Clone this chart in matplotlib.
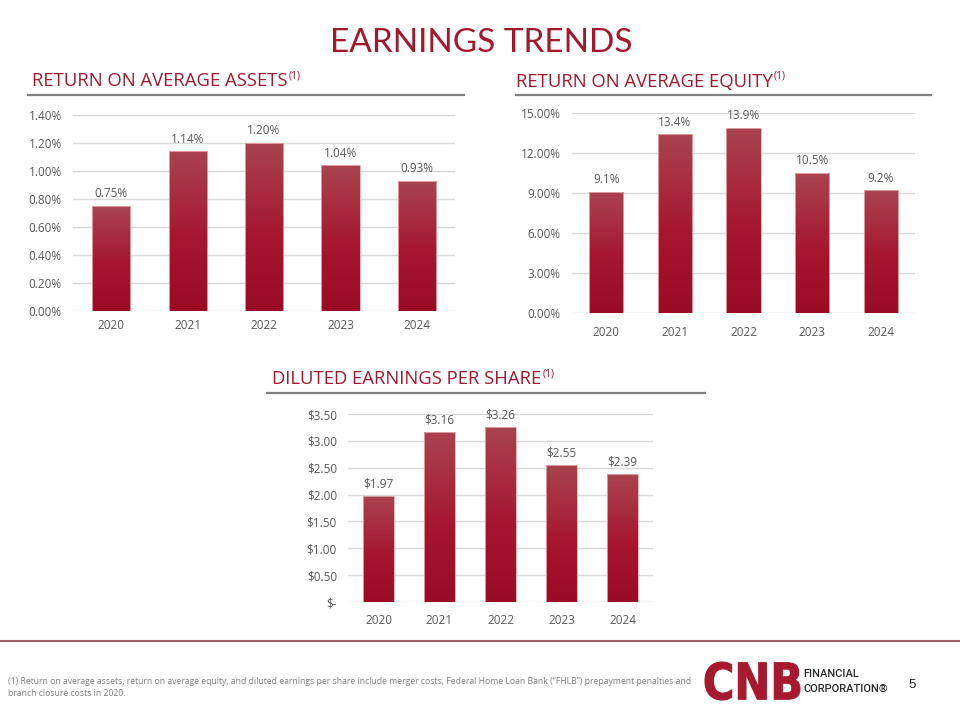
import numpy as np
import matplotlib
matplotlib.use("Agg")
import matplotlib.pyplot as plt
from matplotlib.colors import LinearSegmentedColormap
from matplotlib.textpath import TextPath
from matplotlib.patches import PathPatch
from matplotlib.font_manager import FontProperties
from matplotlib.transforms import Affine2D

plt.rcParams['font.family'] = ['Open Sans', 'DejaVu Sans']

# data
years = ['2020', '2021', '2022', '2023', '2024']
roa = [0.75, 1.14, 1.20, 1.04, 0.93]
roe = [9.1, 13.4, 13.9, 10.5, 9.2]
eps = [1.97, 3.16, 3.26, 2.55, 2.39]

roa_ticks = [0.0, 0.2, 0.4, 0.6, 0.8, 1.0, 1.2, 1.4]
roe_ticks = [0.0, 3.0, 6.0, 9.0, 12.0, 15.0]
eps_ticks = [0.0, 0.5, 1.0, 1.5, 2.0, 2.5, 3.0, 3.5]

RED = '#A3182D'
GRAY_TXT = '#595959'
GRID = '#D9D9D9'
W, H = 960, 720

bar_cmap = LinearSegmentedColormap.from_list(
    'bar', [(0, '#9A0B26'), (0.45, '#A6162F'), (1, '#A9444F')])
grad = np.linspace(0, 1, 256).reshape(-1, 1)

fig = plt.figure(figsize=(9.6, 7.2), dpi=100)


def px_axes(left, right, top, bottom):
    return fig.add_axes([left / W, 1 - bottom / H, (right - left) / W, (bottom - top) / H])


def bar_chart(ax, vals, ticks, tick_fmt, lab_fmt, xpad):
    x = np.arange(len(vals))
    bars = ax.bar(x, vals, 0.5, color='none', edgecolor='#E9A9B0', lw=0.6, zorder=3)
    for b in bars:
        x0, w, h = b.get_x(), b.get_width(), b.get_height()
        im = ax.imshow(grad, extent=[x0, x0 + w, 0, h], origin='lower', aspect='auto',
                       cmap=bar_cmap, zorder=2.5)
        im.set_clip_path(b)
    for xi, v in zip(x, vals):
        ax.annotate(lab_fmt(v), (xi, v), xytext=(0, 4), textcoords='offset points',
                    ha='center', va='bottom', fontsize=8.5, color=GRAY_TXT)
    ax.set_xlim(-0.5, len(vals) - 0.5)
    ax.set_ylim(0, ticks[-1])
    ax.set_yticks(ticks)
    ax.set_yticklabels([tick_fmt(t) for t in ticks])
    ax.set_xticks(x)
    ax.set_xticklabels(years)
    ax.tick_params(length=0, labelsize=8.5, labelcolor=GRAY_TXT)
    ax.tick_params(axis='y', pad=8)
    ax.tick_params(axis='x', pad=xpad)
    ax.yaxis.grid(True, color=GRID, lw=1)
    ax.set_axisbelow(True)
    for s in ax.spines.values():
        s.set_visible(False)


ax1 = px_axes(73, 455, 115, 311)
bar_chart(ax1, roa, roa_ticks, lambda t: f'{t:.2f}%', lambda v: f'{v:.2f}%', 6)

ax2 = px_axes(572, 915, 113, 313)
bar_chart(ax2, roe, roe_ticks, lambda t: f'{t:.2f}%', lambda v: f'{v:.1f}%', 9)

ax3 = px_axes(348, 653, 414, 602)
bar_chart(ax3, eps, eps_ticks, lambda t: f'${t:.2f}' if t else '$-', lambda v: f'${v:.2f}', 9)

# title and section headers
fig.text(481 / W, 1 - 52 / H, 'EARNINGS TRENDS', ha='center', va='baseline',
         fontsize=24, color=RED, family='Lato')

renderer = fig.canvas.get_renderer()


def header(x, y, text, line_x0, line_x1, line_y):
    t = fig.text(x / W, 1 - y / H, text, ha='left', va='baseline', fontsize=13.3, color=RED)
    bb = t.get_window_extent(renderer)
    fig.text((bb.x1 + 1) / W, 1 - (y - 8) / H, '(1)', ha='left', va='baseline',
             fontsize=7.5, color=RED)
    fig.add_artist(plt.Line2D([line_x0 / W, line_x1 / W], [1 - line_y / H] * 2,
                              color='#808080', lw=1.6))


header(32, 86, 'RETURN ON AVERAGE ASSETS', 28, 464, 95)
header(516, 87, 'RETURN ON AVERAGE EQUITY', 516, 931, 95)
header(272, 384, 'DILUTED EARNINGS PER SHARE', 267, 705, 393)

# footer
fig.add_artist(plt.Line2D([0, 1], [1 - 641 / H] * 2, color='#9E5A66', lw=1.5))
fig.text(8 / W, 1 - 681 / H,
         '(1) Return on average assets, return on average equity, and diluted earnings per share '
         'include merger costs, Federal Home Loan Bank (\u201cFHLB\u201d) prepayment penalties and',
         fontsize=6.2, color='#7F7F7F', va='center', ha='left')
fig.text(8 / W, 1 - 694 / H, 'branch closure costs in 2020.', fontsize=6.2, color='#7F7F7F',
         va='center', ha='left')

# logo: stretched block letters
tp = TextPath((0, 0), 'CNB', size=10, prop=FontProperties(family='DejaVu Sans', weight='bold'))
ext = tp.get_extents()
logo_tr = (Affine2D().translate(-ext.x0, -ext.y0)
           .scale(95 / ext.width / W, 38 / ext.height / H)
           .translate(705 / W, (H - 700) / H) + fig.transFigure)
fig.add_artist(PathPatch(tp, transform=logo_tr, facecolor='#A6192E', edgecolor='#A6192E', lw=0.8))

fig.text(803 / W, 1 - 674 / H, 'FINANCIAL', fontsize=8, color='#2B2B2B', family='Roboto',
         fontweight='medium', va='center', ha='left')
fig.text(803 / W, 1 - 689 / H, 'CORPORATION\u00ae', fontsize=8, color='#2B2B2B', family='Roboto',
         fontweight='medium', va='center', ha='left')
fig.text(912 / W, 1 - 685 / H, '5', fontsize=9.5, color='#222222', family='Liberation Sans',
         va='center', ha='center')

fig.savefig('out.png', dpi=100)
